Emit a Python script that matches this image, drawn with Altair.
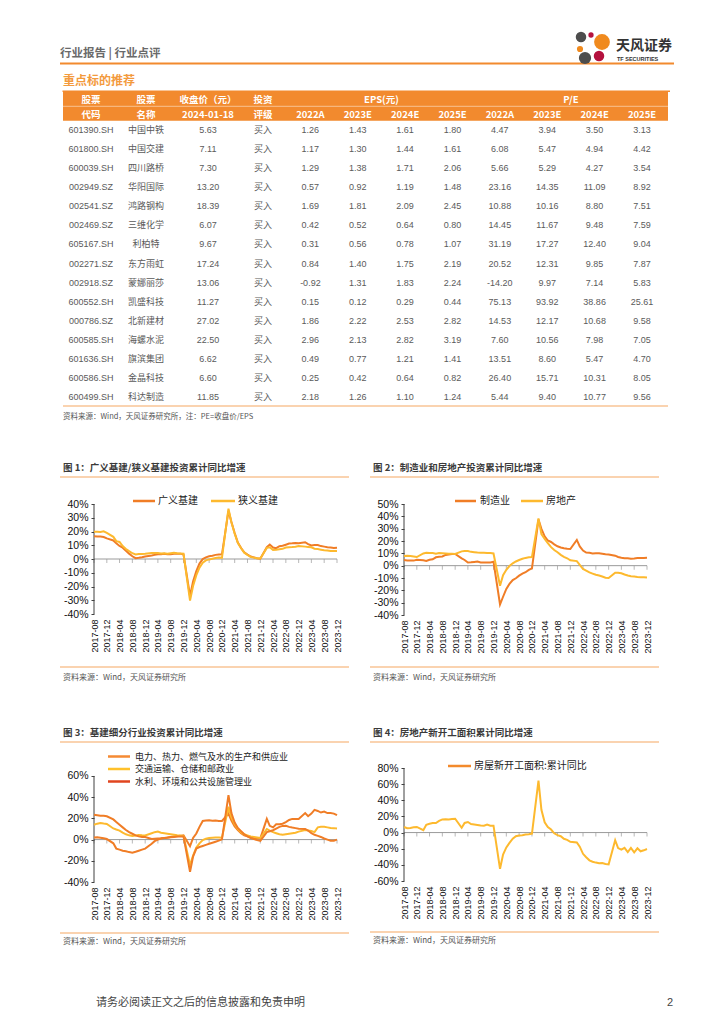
import altair as alt
import pandas as pd

# ---------------- table data ----------------
codes = ["601390.SH", "601800.SH", "600039.SH", "002949.SZ", "002541.SZ", "002469.SZ", "605167.SH",
         "002271.SZ", "002918.SZ", "600552.SH", "000786.SZ", "600585.SH", "601636.SH", "600586.SH", "600499.SH"]
names = ["中国中铁", "中国交建", "四川路桥", "华阳国际", "鸿路钢构", "三维化学", "利柏特",
         "东方雨虹", "蒙娜丽莎", "凯盛科技", "北新建材", "海螺水泥", "旗滨集团", "金晶科技", "科达制造"]
prices = ["5.63", "7.11", "7.30", "13.20", "18.39", "6.07", "9.67", "17.24", "13.06", "11.27", "27.02",
          "22.50", "6.62", "6.60", "11.85"]
ratings = ["买入"] * 15
eps_2022a = ["1.26", "1.17", "1.29", "0.57", "1.69", "0.42", "0.31", "0.84", "-0.92", "0.15", "1.86", "2.96", "0.49", "0.25", "2.18"]
eps_2023e = ["1.43", "1.30", "1.38", "0.92", "1.81", "0.52", "0.56", "1.40", "1.31", "0.12", "2.22", "2.13", "0.77", "0.42", "1.26"]
eps_2024e = ["1.61", "1.44", "1.71", "1.19", "2.09", "0.64", "0.78", "1.75", "1.83", "0.29", "2.53", "2.82", "1.21", "0.64", "1.10"]
eps_2025e = ["1.80", "1.61", "2.06", "1.48", "2.45", "0.80", "1.07", "2.19", "2.24", "0.44", "2.82", "3.19", "1.41", "0.82", "1.24"]
pe_2022a = ["4.47", "6.08", "5.66", "23.16", "10.88", "14.45", "31.19", "20.52", "-14.20", "75.13", "14.53", "7.60", "13.51", "26.40", "5.44"]
pe_2023e = ["3.94", "5.47", "5.29", "14.35", "10.16", "11.67", "17.27", "12.31", "9.97", "93.92", "12.17", "10.56", "8.60", "15.71", "9.40"]
pe_2024e = ["3.50", "4.94", "4.27", "11.09", "8.80", "9.48", "12.40", "9.85", "7.14", "38.86", "10.68", "7.98", "5.47", "10.31", "10.77"]
pe_2025e = ["3.13", "4.42", "3.54", "8.92", "7.51", "7.59", "9.04", "7.87", "5.83", "25.61", "9.58", "7.05", "4.70", "8.05", "9.56"]
header_top = ["股票", "股票", "收盘价（元）", "投资", "EPS(元)", "P/E"]
header_top_col = [0, 1, 2, 3, 5.5, 9.5]
header_bottom = ["代码", "名称", "2024-01-18", "评级", "2022A", "2023E", "2024E", "2025E",
                 "2022A", "2023E", "2024E", "2025E"]

# ---------------- chart data (monthly cumulative YoY, %, Jan merged into Feb) ----------------
months = [f"{y}-{m:02d}" for y in range(2017, 2024) for m in range(2, 13) if not (y == 2017 and m < 8)]
tick_months = ["2017-08", "2017-12", "2018-04", "2018-08", "2018-12", "2019-04", "2019-08", "2019-12",
               "2020-04", "2020-08", "2020-12", "2021-04", "2021-08", "2021-12", "2022-04", "2022-08",
               "2022-12", "2023-04", "2023-08", "2023-12"]

broad_infra = [16.5, 16.4, 16.3, 16.0, 15.0,
               13.5, 11.5, 9.5, 8.2, 6.0, 3.9, 2.0, 0.6, 0.9, 1.3, 1.8,
               2.5, 3.0, 3.5, 3.5, 3.8, 3.5, 3.4, 3.8, 3.8, 3.9, 3.3,
               -26.9, -16.4, -8.8, -3.3, -0.1, 1.2, 2.0, 2.4, 3.0, 3.3, 3.4,
               35.0, 26.9, 18.9, 12.0, 8.0, 4.9, 3.2, 1.8, 1.2, 0.6, 0.2,
               8.6, 10.5, 8.3, 7.9, 9.3, 9.6, 10.4, 11.2, 11.4, 11.7, 11.5,
               12.2, 10.8, 9.8, 10.1, 10.2, 9.4, 9.0, 8.6, 8.3, 8.0, 8.2]
narrow_infra = [19.8, 19.8, 19.6, 20.1, 19.0,
                16.1, 13.0, 12.4, 9.4, 7.3, 5.7, 4.2, 3.3, 3.7, 3.7, 3.8,
                4.3, 4.4, 4.4, 4.0, 4.1, 3.8, 4.2, 4.5, 4.2, 4.0, 3.8,
                -30.3, -19.7, -11.8, -6.3, -2.7, -1.0, -0.3, 0.2, 0.7, 1.0, 0.9,
                36.6, 26.8, 18.4, 11.8, 7.8, 4.6, 2.9, 1.5, 1.0, 0.5, 0.4,
                8.1, 8.5, 6.5, 6.7, 7.1, 7.4, 8.3, 8.6, 8.7, 8.9, 9.4,
                9.0, 8.8, 8.5, 7.5, 7.2, 6.8, 6.4, 6.2, 5.9, 5.8, 5.9]
manufacturing = [4.5, 4.2, 4.1, 4.1, 4.8,
                 4.3, 3.8, 4.8, 5.2, 6.8, 7.3, 7.5, 8.7, 9.1, 9.5, 9.5,
                 5.9, 4.6, 2.5, 2.7, 3.0, 3.3, 2.6, 2.5, 2.6, 2.5, 3.1,
                 -31.5, -25.2, -18.8, -14.8, -11.7, -10.2, -8.1, -6.5, -5.3, -3.5, -2.2,
                 37.3, 29.8, 23.8, 20.4, 19.2, 17.3, 15.7, 14.8, 14.2, 13.7, 13.5,
                 20.9, 15.6, 12.2, 10.6, 10.4, 9.9, 10.0, 10.1, 9.7, 9.3, 9.1,
                 8.1, 7.0, 6.4, 6.0, 6.0, 5.7, 5.9, 6.2, 6.2, 6.3, 6.5]
real_estate = [7.9, 8.1, 7.8, 7.5, 7.0,
               9.9, 10.4, 10.3, 10.2, 9.7, 10.2, 10.1, 9.9, 9.7, 9.7, 9.5,
               11.6, 11.8, 11.9, 11.2, 10.9, 10.6, 10.5, 10.5, 10.3, 10.2, 9.9,
               -16.3, -7.7, -3.3, -0.3, 1.9, 3.4, 4.6, 5.6, 6.3, 6.8, 7.0,
               38.3, 25.6, 21.6, 18.3, 15.0, 12.7, 10.9, 8.8, 7.2, 6.0, 4.4,
               3.7, 0.7, -2.7, -4.0, -5.4, -6.4, -7.4, -8.0, -8.8, -9.8, -10.0,
               -5.7, -5.8, -6.2, -7.2, -7.9, -8.5, -8.8, -9.1, -9.3, -9.4, -9.6]
utilities = [2.0, 2.3, 1.8, 1.2, 0.5,
             -3.5, -8.5, -9.5, -10.5, -11.0, -11.8, -12.3, -11.5, -10.5, -9.5, -8.5,
             -4.0, -1.5, 0.0, 1.0, 1.5, 2.0, 2.5, 3.0, 3.2, 3.5, 4.0,
             -6.3, 1.5, 5.7, 12.0, 17.6, 18.0, 18.2, 17.8, 18.0, 17.5, 17.6,
             24.5, 18.0, 12.5, 9.0, 6.0, 4.0, 3.0, 2.0, 1.5, 1.2, 1.1,
             19.5, 13.0, 11.5, 14.5, 14.5, 15.0, 16.5, 18.5, 19.5, 19.5, 19.5,
             25.0, 22.0, 24.5, 28.0, 27.0, 25.5, 26.5, 25.0, 25.0, 24.5, 23.0]
transport = [14.0, 15.0, 15.7, 15.2, 14.8,
             10.5, 9.5, 8.5, 6.5, 5.0, 4.0, 3.5, 3.8, 4.2, 4.0, 3.9,
             6.0, 7.0, 7.5, 6.5, 6.0, 5.5, 5.0, 4.5, 4.0, 3.8, 3.4,
             -24.0, -15.0, -7.5, -3.5, -0.5, 0.8, 1.5, 1.8, 2.0, 2.0, 1.8,
             31.0, 21.0, 14.5, 10.0, 7.0, 5.0, 4.0, 3.0, 2.5, 2.0, 1.5,
             10.0, 8.5, 7.0, 6.0, 5.0, 4.5, 5.0, 5.5, 6.0, 6.5, 7.5,
             9.0, 8.5, 8.0, 7.0, 11.5, 12.0, 12.0, 11.5, 11.0, 10.8, 10.5]
water_env = [23.5, 23.0, 22.5, 22.5, 22.0,
             19.0, 16.5, 14.0, 11.5, 9.0, 7.0, 5.5, 4.0, 3.0, 2.5, 2.5,
             0.5, 0.8, 1.0, 1.2, 1.5, 1.8, 2.2, 2.5, 2.8, 3.0, 3.0,
             -30.5, -16.0, -8.5, -7.0, -6.0, -5.0, -4.0, -3.0, -2.0, -1.0, 0.2,
             42.0, 25.0, 16.0, 11.0, 8.0, 5.0, 3.0, 1.5, 0.5, -0.5, -1.2,
             7.0, 7.8, 8.8, 10.4, 12.0, 12.9, 13.0, 12.0, 11.3, 10.8, 10.3,
             10.0, 8.5, 6.0, 4.5, 3.5, 2.5, 1.0, 0.0, -1.0, -1.0, 0.0]
housing_starts = [6.9, 5.4, 5.6, 6.6, 7.0,
                  2.9, 9.7, 10.9, 11.8, 11.8, 14.4, 16.3, 16.4, 16.3, 16.8, 17.2,
                  6.0, 11.9, 13.1, 10.5, 10.1, 9.5, 8.9, 8.6, 10.0, 8.6, 8.5,
                  -44.9, -27.2, -18.4, -12.8, -7.6, -4.5, -3.6, -3.4, -2.4, -2.0, -1.2,
                  64.3, 28.2, 12.8, 6.9, 3.8, -0.9, -3.2, -4.5, -7.7, -9.1, -11.4,
                  -12.2, -17.5, -26.3, -30.6, -34.4, -36.1, -37.2, -38.0, -37.8, -38.9, -39.4,
                  -9.4, -19.2, -21.2, -19.0, -24.3, -19.0, -24.4, -19.5, -23.2, -22.0, -20.4]

# ---------------- styles ----------------
ORANGE = "#F28A2E"
THIN = "#F5A762"
NUM_FONT = "Liberation Sans, Noto Sans CJK SC, sans-serif"
CJK_FONT = "Noto Sans CJK SC, Liberation Sans, sans-serif"
one = pd.DataFrame({"k": [0]})


def txt(s, x, y, size, color="#333333", weight="normal", font=CJK_FONT, align="left"):
    return alt.Chart(pd.DataFrame({"t": [s]})).mark_text(
        align=align, baseline="middle", fontSize=size, font=font,
        color=color, fontWeight=weight).encode(x=alt.value(x), y=alt.value(y), text="t:N")


def hline(x1, x2, y, color, width, opacity=1.0):
    return alt.Chart(one).mark_rule(color=color, strokeWidth=width, opacity=opacity).encode(
        x=alt.value(x1), x2=alt.value(x2), y=alt.value(y))


def dot(x, y, size, color):
    return alt.Chart(one).mark_circle(color=color, opacity=1, size=size).encode(
        x=alt.value(x), y=alt.value(y))


def dt(s):
    return alt.DateTime(year=int(s[:4]), month=int(s[5:7]), date=1)


def blank(w, h):
    return alt.Chart(one).mark_point(opacity=0).encode(
        x=alt.value(0), y=alt.value(0)).properties(width=w, height=h)


# ---------------- header + table panel ----------------
cols = [codes, names, prices, ratings, eps_2022a, eps_2023e, eps_2024e, eps_2025e,
        pe_2022a, pe_2023e, pe_2024e, pe_2025e]
cells = pd.DataFrame([{"r": r, "c": c, "t": col[r]} for c, col in enumerate(cols) for r in range(len(codes))])
xs = alt.Scale(domain=[0, 1, 2, 3, 11], range=[80, 135, 197, 252, 631])
ys = alt.Scale(domain=[0, 14], range=[119.3, 385.7])

body = alt.Chart(cells).mark_text(fontSize=9, font=NUM_FONT, color="#5a5a5a").encode(
    x=alt.X("c:Q", scale=xs, axis=None), y=alt.Y("r:Q", scale=ys, axis=None), text="t:N")
head1 = alt.Chart(pd.DataFrame({"c": header_top_col, "t": header_top})).mark_text(
    fontSize=9.5, font=CJK_FONT, color="white", fontWeight="bold").encode(
    x=alt.X("c:Q", scale=xs, axis=None), y=alt.value(88.7), text="t:N")
head2 = alt.Chart(pd.DataFrame({"c": list(range(12)), "t": header_bottom})).mark_text(
    fontSize=9.5, font=CJK_FONT, color="white", fontWeight="bold").encode(
    x=alt.X("c:Q", scale=xs, axis=None), y=alt.value(103.7), text="t:N")
head_bg = alt.Chart(one).mark_rect(color=ORANGE).encode(
    x=alt.value(52), x2=alt.value(657), y=alt.value(81), y2=alt.value(109.7))

top_layers = [
    head_bg, hline(52, 657, 95.3, "white", 0.8, 0.6), head1, head2, body,
    txt("行业报告\u00a0|\u00a0行业点评", 49, 43, 11.5, "#6a6a6a", "bold"),
    hline(49, 663, 52.5, ORANGE, 1.8),
    txt("重点标的推荐", 52, 70, 12, "#F39A3D", "bold"),
    hline(51.5, 659, 80.3, ORANGE, 1.5),
    hline(52, 657, 395, THIN, 1.2),
    txt("资料来源：Wind，天风证券研究所，注：PE=收盘价/EPS", 52, 406, 7.5, "#555555"),
    # logo
    dot(570, 26, 110, "#4d4d4d"), dot(580, 24, 28, "#B5123E"), dot(591, 31, 250, "#F08A1E"),
    dot(569, 38, 38, "#F08A1E"), dot(574, 47, 150, "#4d4d4d"), dot(588, 45, 110, "#B5123E"),
    txt("天风证券", 605, 35, 14, "#333333", "bold"),
    txt("TF SECURITIES", 606, 48, 5.5, "#333333", "bold", NUM_FONT),
]
# the panel box is only a layout cell (flush bounds); its content runs past it
top = alt.layer(*top_layers).properties(width=16, height=340)


# ---------------- line chart panels ----------------
def line_panel(series_names, series_values, colors, ydom, yaxis_top, ystep, h, title, ty, sy, by, srcy,
               legend, legend_size=10, extra=()):
    rows = []
    for name, vals in zip(series_names, series_values):
        for m, v in zip(months, vals):
            rows.append({"date": m + "-01T00:00:00", "series": name, "value": v})
    df = pd.DataFrame(rows)
    ticks_df = pd.DataFrame({"date": [m + "-01T00:00:00" for m in tick_months]})

    def xenc():
        return alt.X("date:T",
                     scale=alt.Scale(domain=[dt(months[0]), dt(months[-1])]),
                     axis=alt.Axis(values=[dt(m) for m in tick_months], format="%Y-%m", labelAngle=-90,
                                   domain=False, ticks=False, grid=False, labelFontSize=9,
                                   labelFont=NUM_FONT, labelColor="#111111", labelPadding=5,
                                   labelOverlap=False, labelFlush=False, title=None))

    def yaxis():
        return alt.Axis(values=list(range(ydom[0], yaxis_top + 1, ystep)),
                        labelExpr="datum.value + '%'", grid=False, domain=False,
                        tickColor="#404040", tickSize=3, labelFontSize=10.5, labelFont=NUM_FONT,
                        labelColor="#111111", labelPadding=3, labelOverlap=False,
                        labelFlush=False, title=None)

    def yscale():
        return alt.Scale(domain=list(ydom), nice=False, zero=False)

    lines = alt.Chart(df).mark_line(strokeWidth=2).encode(
        x=xenc(),
        y=alt.Y("value:Q", scale=yscale(), axis=yaxis()),
        color=alt.Color("series:N", scale=alt.Scale(domain=series_names, range=colors), legend=None),
    )
    yline = alt.Chart(one).mark_rule(color="#404040", strokeWidth=1).encode(
        x=alt.value(0), y=alt.Y(datum=ydom[0], scale=yscale(), axis=yaxis()), y2=alt.datum(yaxis_top))
    zero = alt.Chart(one).mark_rule(color="#9a9a9a", strokeWidth=1).encode(
        y=alt.Y(datum=0, scale=yscale(), axis=yaxis()))
    ticks = alt.Chart(ticks_df).mark_tick(orient="vertical", size=4, thickness=1, color="#9a9a9a",
                                          yOffset=2).encode(
        x=xenc(), y=alt.Y(datum=0, scale=yscale(), axis=yaxis()))
    layers = [zero, ticks, yline, lines,
              txt(title, -31, ty, 9.5, "#3a3a3a", "bold"),
              hline(-34, 255, sy, THIN, 1.2),
              hline(-34, 255, by, THIN, 1.2),
              txt("资料来源：Wind，天风证券研究所", -31, srcy, 8, "#555555")]
    for (name, color, x1, x2, tx, ly) in legend:
        layers.append(hline(x1, x2, ly, color, 2.5))
        layers.append(txt(name, tx, ly, legend_size, "#222222"))
    layers.extend(extra)
    return alt.layer(*layers).properties(width=243, height=h)


c1_names = ["广义基建", "狭义基建"]
c1_colors = ["#F07D26", "#FDB92E"]
c1 = line_panel(c1_names, [broad_infra, narrow_infra], c1_colors, (-40, 40), 40, 10, 110,
                "图 1：广义基建/狭义基建投资累计同比增速", -36, -27, 163, 174,
                [(c1_names[0], c1_colors[0], 39, 61, 64, -3), (c1_names[1], c1_colors[1], 117, 141, 144, -3)])

c2_names = ["制造业", "房地产"]
c2_colors = ["#F07D26", "#FDB92E"]
c2 = line_panel(c2_names, [manufacturing, real_estate], c2_colors, (-40, 50), 50, 10, 111,
                "图 2：制造业和房地产投资累计同比增速", -36, -27, 163, 174,
                [(c2_names[0], c2_colors[0], 51, 72, 76, -3), (c2_names[1], c2_colors[1], 117, 139, 142, -3)])

# chart 3 box starts 8px above its 60% line so that both bottom charts share one row top
c3_names = ["电力、热力、燃气及水的生产和供应业", "交通运输、仓储和邮政业", "水利、环境和公共设施管理业"]
c3_colors = ["#F58A33", "#FFC12B", "#E0451F"]
c3 = line_panel(c3_names, [utilities, transport, water_env], c3_colors, (-40, 67.5), 60, 20, 114,
                "图 3：基建细分行业投资累计同比增速", -35, -26, 165, 174,
                [(c3_names[0], c3_colors[0], 14, 36, 41, -11.5), (c3_names[1], c3_colors[1], 14, 36, 41, 1),
                 (c3_names[2], c3_colors[2], 14, 36, 41, 13.5)],
                legend_size=9,
                extra=[txt("请务必阅读正文之后的信息披露和免责申明", 2, 235, 11, "#444444"),
                       txt("2", 573, 235, 11, "#444444", "normal", NUM_FONT)])

c4_names = ["房屋新开工面积:累计同比"]
c4_colors = ["#F38A2C"]
c4 = line_panel(c4_names, [housing_starts], c4_colors, (-60, 80), 80, 20, 113,
                "图 4：房地产新开工面积累计同比增速", -35, -26, 164, 173,
                [(c4_names[0], c4_colors[0], 44, 67, 70, -2)])

grid = [top, blank(1, 1), blank(1, 1),
        blank(16, 10), c1, c2,
        blank(16, 10), c3, c4]
chart = alt.concat(*grid, columns=3, spacing=alt.RowColnumber(row=153, column=67), bounds="flush").properties(
    padding=0, background="white").configure_view(stroke=None)

chart.save("out.html", embed_options={"renderer": "svg", "actions": False})
